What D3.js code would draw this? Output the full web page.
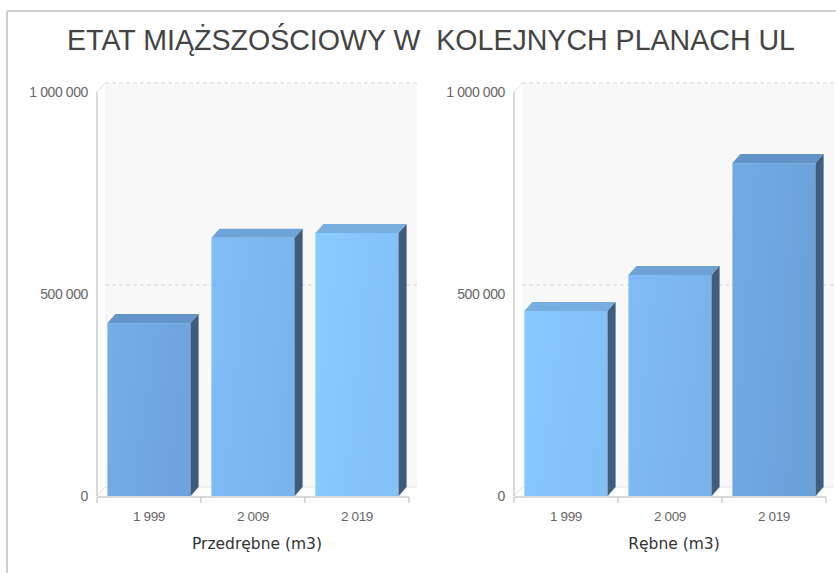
<!DOCTYPE html>
<html>
<head>
<meta charset="utf-8">
<script src="https://cdn.jsdelivr.net/npm/d3@7"></script>
<style>
  body { margin: 0; background: #fff; }
  svg { display: block; }
</style>
</head>
<body>
<svg id="chart" width="836" height="573"></svg>
<script>
// data
const years = ["1 999", "2 009", "2 019"];
const przedrebne = [428000, 639000, 651000];
const rebne = [458000, 547000, 824000];
const yTicks = [0, 500000, 1000000];
const titleText = "ETAT MIĄŻSZOŚCIOWY W  KOLEJNYCH PLANACH UL";

// bar colours (style only)
const leftColors = ["#71a9e3", "#7dbaf4", "#87c7fe"];
const rightColors = ["#86c5fd", "#7db8f2", "#6fa7e0"];

const svg = d3.select("svg#chart");
const defs = svg.append("defs");

// depth of the 3d effect
const dx = 8, dy = -9;
const fmt = v => d3.format(",")(v).replace(/,/g, " ");

// frame
svg.append("line").attr("x1", 7).attr("y1", 11).attr("x2", 836).attr("y2", 11)
  .attr("stroke", "#cfcfcf").attr("stroke-width", 2);
svg.append("line").attr("x1", 7).attr("y1", 11).attr("x2", 7).attr("y2", 573)
  .attr("stroke", "#cfcfcf").attr("stroke-width", 2);

// title
svg.append("text")
  .attr("x", 431).attr("y", 50)
  .attr("text-anchor", "middle")
  .attr("font-family", "Liberation Sans, Arial, sans-serif")
  .attr("font-size", 29)
  .attr("textLength", 728)
  .attr("lengthAdjust", "spacingAndGlyphs")
  .attr("fill", "#444")
  .style("white-space", "pre")
  .text(titleText);

function drawPanel(values, colors, x0, x1, axisTitle, id) {
  let g = svg.append("g");

  let y = d3.scaleLinear().domain([0, 1000000]).range([496, 92]);
  let xOuter = d3.scaleBand().domain(years).range([x0, x1]).padding(0);
  let x = d3.scaleBand().domain(years).range([x0, x1])
    .paddingInner(0.2).paddingOuter(0.1);

  // back wall
  g.append("rect")
    .attr("x", x0 + dx).attr("y", y(1000000) + dy)
    .attr("width", x1 - x0).attr("height", y(0) - y(1000000))
    .attr("fill", "#f8f8f8");

  // floor edge
  g.append("path")
    .attr("d", `M${x0},${y(0)} L${x0 + dx},${y(0) + dy} L${x1 + dx},${y(0) + dy}`)
    .attr("fill", "none").attr("stroke", "#e2e2e2");

  // dashed grid lines on the back wall
  g.selectAll(".grid")
    .data(yTicks.filter(d => d > 0))
    .join("line")
    .attr("x1", x0 + dx).attr("x2", x1 + dx)
    .attr("y1", d => y(d) + dy).attr("y2", d => y(d) + dy)
    .attr("stroke", "#d4d4d4")
    .attr("stroke-dasharray", "4,3");

  // y axis line
  g.append("line")
    .attr("x1", x0).attr("x2", x0)
    .attr("y1", y(0)).attr("y2", y(1000000))
    .attr("stroke", "#cccccc").attr("stroke-width", 1.5);
  g.append("line")
    .attr("x1", x0).attr("x2", x0 + dx)
    .attr("y1", y(1000000)).attr("y2", y(1000000) + dy)
    .attr("stroke", "#e0e0e0");

  // y tick labels
  g.selectAll(".ylab")
    .data(yTicks)
    .join("text")
    .attr("x", x0 - 9)
    .attr("y", d => y(d))
    .attr("dy", "0.35em")
    .attr("text-anchor", "end")
    .attr("font-family", "Liberation Sans, Arial, sans-serif")
    .attr("font-size", 14)
    .attr("letter-spacing", "-0.4px")
    .attr("fill", "#666")
    .text(d => fmt(d));

  // x axis
  g.append("line")
    .attr("x1", x0).attr("x2", x1)
    .attr("y1", y(0) + 1).attr("y2", y(0) + 1)
    .attr("stroke", "#cccccc").attr("stroke-width", 1.5);
  g.selectAll(".xtick")
    .data(years.concat(["end"]))
    .join("line")
    .attr("x1", (d, i) => x0 + i * xOuter.step())
    .attr("x2", (d, i) => x0 + i * xOuter.step())
    .attr("y1", y(0) + 1).attr("y2", y(0) + 7)
    .attr("stroke", "#cccccc").attr("stroke-width", 1.5);

  g.selectAll(".xlab")
    .data(years)
    .join("text")
    .attr("x", d => xOuter(d) + xOuter.bandwidth() / 2)
    .attr("y", y(0) + 25)
    .attr("text-anchor", "middle")
    .attr("font-family", "Liberation Sans, Arial, sans-serif")
    .attr("font-size", 13.5)
    .attr("letter-spacing", "-0.4px")
    .attr("fill", "#666")
    .text(d => d);

  g.append("text")
    .attr("x", (x0 + x1) / 2 + 4)
    .attr("y", y(0) + 53)
    .attr("text-anchor", "middle")
    .attr("font-family", "DejaVu Sans, Verdana, sans-serif")
    .attr("font-size", 15.5)
    .attr("fill", "#333")
    .text(axisTitle);

  // gradients for the front faces
  colors.forEach((c, i) => {
    let grad = defs.append("linearGradient")
      .attr("id", id + "g" + i)
      .attr("x1", "0%").attr("y1", "0%").attr("x2", "100%").attr("y2", "30%");
    grad.append("stop").attr("offset", "0%").attr("stop-color", d3.color(c).brighter(0.06));
    grad.append("stop").attr("offset", "100%").attr("stop-color", d3.color(c).darker(0.08));
  });

  let data = years.map((yr, i) => ({ year: yr, value: values[i], i: i }));
  let bars = g.selectAll(".bar").data(data).join("g");

  let w = x.bandwidth();
  // shadow
  bars.append("rect")
    .attr("x", d => x(d.year) + 1)
    .attr("y", d => y(d.value) + 1)
    .attr("width", w + 1)
    .attr("height", d => y(0) - y(d.value))
    .attr("fill", "#dcdcdc");
  // front
  bars.append("rect")
    .attr("x", d => x(d.year))
    .attr("y", d => y(d.value))
    .attr("width", w)
    .attr("height", d => y(0) - y(d.value))
    .attr("fill", d => `url(#${id}g${d.i})`);
  // top
  bars.append("path")
    .attr("d", d => {
      let bx = x(d.year), yt = y(d.value);
      return `M${bx},${yt} L${bx + dx},${yt + dy} L${bx + w + dx},${yt + dy} L${bx + w},${yt} Z`;
    })
    .attr("fill", d => d3.color(colors[d.i]).darker(0.35));
  // side
  bars.append("path")
    .attr("d", d => {
      let bx = x(d.year) + w, yt = y(d.value);
      return `M${bx},${yt} L${bx + dx},${yt + dy} L${bx + dx},${y(0) + dy} L${bx},${y(0)} Z`;
    })
    .attr("fill", "#3f5c7d");
}

drawPanel(przedrebne, leftColors, 97, 409, "Przedrębne (m3)", "l");
drawPanel(rebne, rightColors, 514, 826, "Rębne (m3)", "r");
</script>
</body>
</html>
